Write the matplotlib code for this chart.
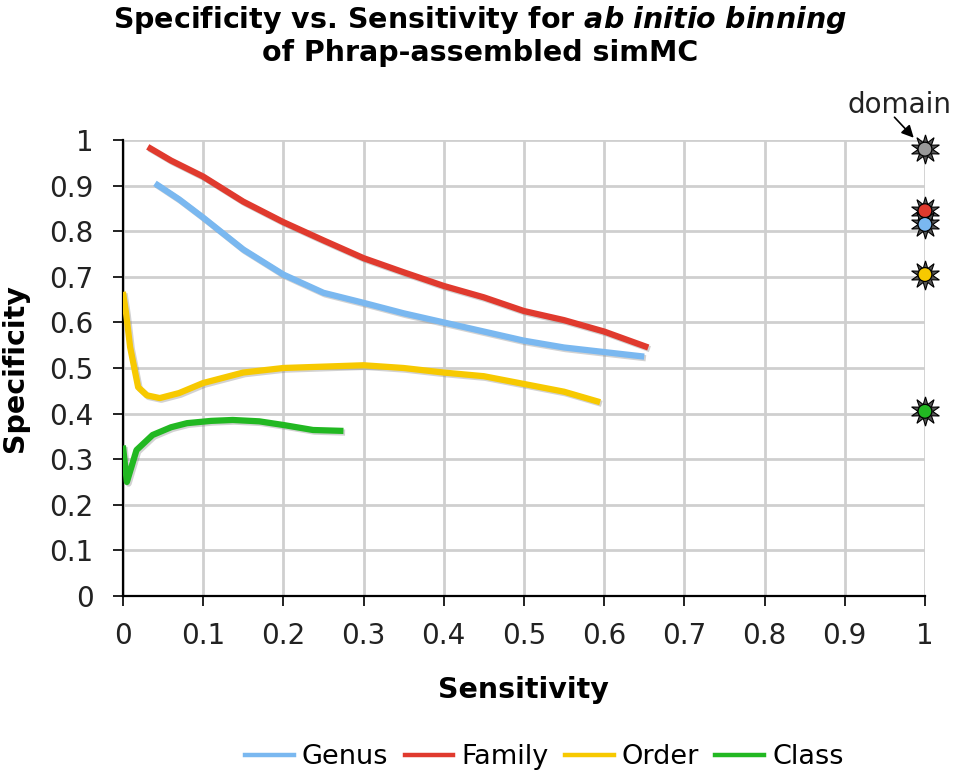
import matplotlib.pyplot as plt
import matplotlib.patheffects as pe
import numpy as np

# data
genus_x = [0.04, 0.07, 0.1, 0.15, 0.2, 0.25, 0.3, 0.35, 0.4, 0.45, 0.5, 0.55, 0.6, 0.65]
genus_y = [0.905, 0.87, 0.83, 0.76, 0.705, 0.665, 0.643, 0.62, 0.60, 0.58, 0.56, 0.545, 0.535, 0.525]

family_x = [0.031, 0.06, 0.1, 0.15, 0.2, 0.25, 0.3, 0.35, 0.4, 0.45, 0.5, 0.55, 0.6, 0.655]
family_y = [0.985, 0.955, 0.92, 0.865, 0.82, 0.78, 0.741, 0.71, 0.68, 0.655, 0.625, 0.605, 0.58, 0.545]

order_x = [0.0, 0.004, 0.009, 0.019, 0.03, 0.046, 0.07, 0.1, 0.15, 0.2, 0.25, 0.3, 0.35, 0.4, 0.45, 0.5, 0.55, 0.595]
order_y = [0.667, 0.62, 0.546, 0.458, 0.44, 0.434, 0.445, 0.467, 0.49, 0.50, 0.503, 0.506, 0.50, 0.49, 0.482, 0.465, 0.448, 0.425]

class_x = [0.0, 0.005, 0.017, 0.037, 0.06, 0.08, 0.11, 0.137, 0.17, 0.2, 0.237, 0.275]
class_y = [0.33, 0.25, 0.32, 0.353, 0.37, 0.379, 0.384, 0.386, 0.383, 0.375, 0.364, 0.362]

domain_y = [0.98, 0.845, 0.815, 0.705, 0.405]
domain_colors = ["#999999", "#e03a2e", "#7ab8f0", "#f7c900", "#22b822"]

names = ["Genus", "Family", "Order", "Class"]
colors = ["#7ab8f0", "#e03a2e", "#f7c900", "#22b822"]
series = [(genus_x, genus_y), (family_x, family_y), (order_x, order_y), (class_x, class_y)]

fig = plt.figure(figsize=(9.6, 7.78), dpi=100)
ax = fig.add_axes([0.128, 0.234, 0.8355, 0.586])

shadow = [pe.SimpleLineShadow(offset=(1.2, -1.2), shadow_color="gray", alpha=0.35), pe.Normal()]
for (x, y), name, c in zip(series, names, colors):
    ax.plot(x, y, color=c, lw=4.5, solid_capstyle="butt", path_effects=shadow, zorder=3)
    ax.plot([], [], color=c, lw=3.2, label=name)

ax.plot([1] * len(domain_y), domain_y, ls="none", marker=(10, 1, 0), ms=21,
        mfc="#555555", mec="black", mew=0.8, clip_on=False, zorder=5)
ax.scatter([1] * len(domain_y), domain_y, s=100, c=domain_colors, edgecolors="black",
           linewidths=0.9, clip_on=False, zorder=6)

# "domain" callout
ax.text(0.968, 1.077, "domain", transform=ax.transAxes, fontsize=20,
        ha="center", va="center", color="#222222")
ax.annotate("", xy=(0.986, 1.005), xytext=(0.962, 1.05), annotation_clip=False,
            arrowprops=dict(arrowstyle="-|>", color="black", lw=1.2, mutation_scale=18,
                            shrinkA=0, shrinkB=0))

ax.set_xlim(0, 1)
ax.set_ylim(0, 1)
ticks = np.round(np.arange(0, 1.01, 0.1), 1)
tick_labels = ["0"] + [f"{v:.1f}" for v in ticks[1:-1]] + ["1"]
ax.set_xticks(ticks)
ax.set_yticks(ticks)
ax.set_xticklabels(tick_labels)
ax.set_yticklabels(tick_labels)
ax.tick_params(labelsize=20, length=7, width=1.4, direction="out", colors="#222222")
ax.tick_params(axis="x", pad=12)
ax.tick_params(axis="y", pad=14)
ax.grid(True, color="#cfcfcf", lw=2)
ax.set_axisbelow(True)
for s in ["top", "right"]:
    ax.spines[s].set_visible(False)
for s in ["left", "bottom"]:
    ax.spines[s].set_linewidth(1.6)
    ax.spines[s].set_color("black")

ax.set_xlabel("Sensitivity", fontsize=20.5, fontweight="bold")
ax.set_ylabel("Specificity", fontsize=20.5, fontweight="bold")
ax.xaxis.set_label_coords(0.5, -0.175)
ax.yaxis.set_label_coords(-0.117, 0.5)

fig.text(0.5, 0.974, r"Specificity vs. Sensitivity for $\mathbfit{ab\ initio\ binning}$",
         ha="center", va="center", fontsize=20.5, fontweight="bold")
fig.text(0.5, 0.932, "of Phrap-assembled simMC", ha="center", va="center",
         fontsize=20.5, fontweight="bold")

fig.legend(loc="center", bbox_to_anchor=(0.567, 0.027), ncol=4, frameon=False,
           fontsize=19.5, handlelength=1.8, columnspacing=0.6, handletextpad=0.3)

fig.savefig("out.png", dpi=100)
